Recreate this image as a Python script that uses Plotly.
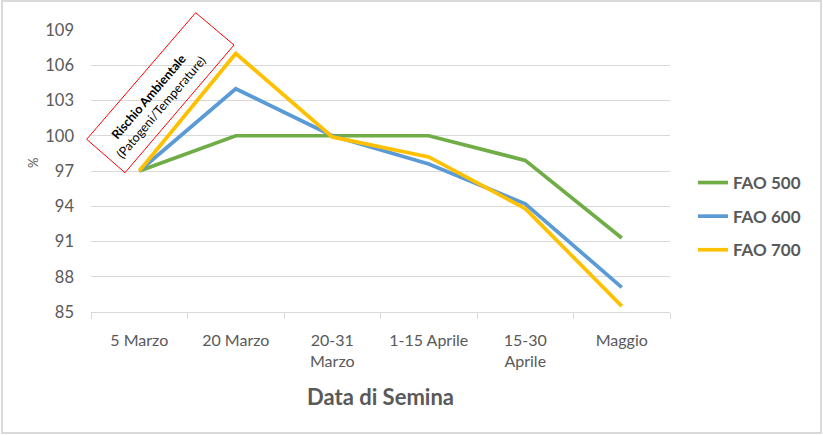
import plotly.graph_objects as go

# data
categories = ["5 Marzo", "20 Marzo", "20-31<br>Marzo", "1-15 Aprile", "15-30<br>Aprile", "Maggio"]
fao_500 = [97.0, 100.0, 100.0, 100.0, 97.9, 91.3]
fao_600 = [97.0, 104.0, 100.0, 97.6, 94.2, 87.1]
fao_700 = [97.0, 107.0, 99.9, 98.2, 93.8, 85.5]
series_names = ["FAO 500", "FAO 600", "FAO 700"]
y_ticks = [85, 88, 91, 94, 97, 100, 103, 106, 109]

colors = ["#70ad47", "#5b9bd5", "#ffc000"]
grey = "#595959"
font = "Lato, 'Open Sans', sans-serif"

W, H = 823, 435
L, R, T, B = 91, 153, 30, 123
pw, ph = W - L - R, H - T - B


def px(x, y):
    # pixel position -> paper coords
    return (x - L) / pw, (H - B - y) / ph


fig = go.Figure()
for name, vals, c in zip(series_names, [fao_500, fao_600, fao_700], colors):
    fig.add_trace(go.Scatter(x=categories, y=vals, name=name, mode="lines",
                             legendgroup=name,
                             line=dict(color=c, width=3.7)))

# rotated red box for the annotation
corners = [px(86.7, 139.3), px(125, 172.7), px(234, 45), px(195.7, 12.7)]
path = "M " + " L ".join(f"{x:.4f},{y:.4f}" for x, y in corners) + " Z"
fig.add_shape(type="path", xref="paper", yref="paper", path=path,
              line=dict(color="#ff0000", width=1), fillcolor="rgba(0,0,0,0)")

# outer frame
x0, y0 = px(2, 433)
x1, y1 = px(821, 1)
fig.add_shape(type="rect", xref="paper", yref="paper", x0=x0, y0=y0, x1=x1, y1=y1,
              line=dict(color="#d9d9d9", width=2), layer="below")

ax, ay = px(154, 102)
fig.add_annotation(xref="paper", yref="paper", x=ax, y=ay, showarrow=False,
                   xanchor="center", yanchor="middle", textangle=-49.5,
                   text="<b>Rischio Ambientale</b><br>(Patogeni/Temperature)",
                   font=dict(family=font, size=12.5, color="#000000"))

mx, my = px(33, 163)
fig.add_annotation(xref="paper", yref="paper", x=mx, y=my, showarrow=False,
                   xanchor="center", yanchor="middle",
                   textangle=-90, text="%",
                   font=dict(family=font, size=13, color=grey))

fig.update_layout(
    width=W, height=H,
    margin=dict(l=L, r=R, t=T, b=B, autoexpand=False),
    paper_bgcolor="white", plot_bgcolor="white",
    font=dict(family=font, color=grey),
    showlegend=True,
    legend=dict(x=px(693, 0)[0], y=px(0, 165)[1], xanchor="left", yanchor="top",
                font=dict(size=17, color=grey, weight="bold"),
                itemwidth=30, tracegroupgap=8.5, traceorder="grouped"),
    xaxis=dict(
        range=[-0.5, 5.5],
        showgrid=False, showline=True, linecolor="#d9d9d9", linewidth=1,
        ticks="outside", tickson="boundaries", ticklen=6, tickcolor="#d9d9d9",
        tickfont=dict(size=16, color=grey), ticklabelstandoff=14,
        title=dict(text="<b>Data di Semina</b>", font=dict(size=22, color=grey), standoff=20),
    ),
    yaxis=dict(
        range=[85, 109], tickvals=y_ticks, showgrid=True, gridcolor="#d9d9d9",
        gridwidth=1, zeroline=False, showline=False,
        tickfont=dict(size=16.5, color=grey), ticks="", ticklabelstandoff=16,
    ),
)

fig.write_html("out.html", config={"displayModeBar": False},
               post_script="document.body.style.margin='0';")
